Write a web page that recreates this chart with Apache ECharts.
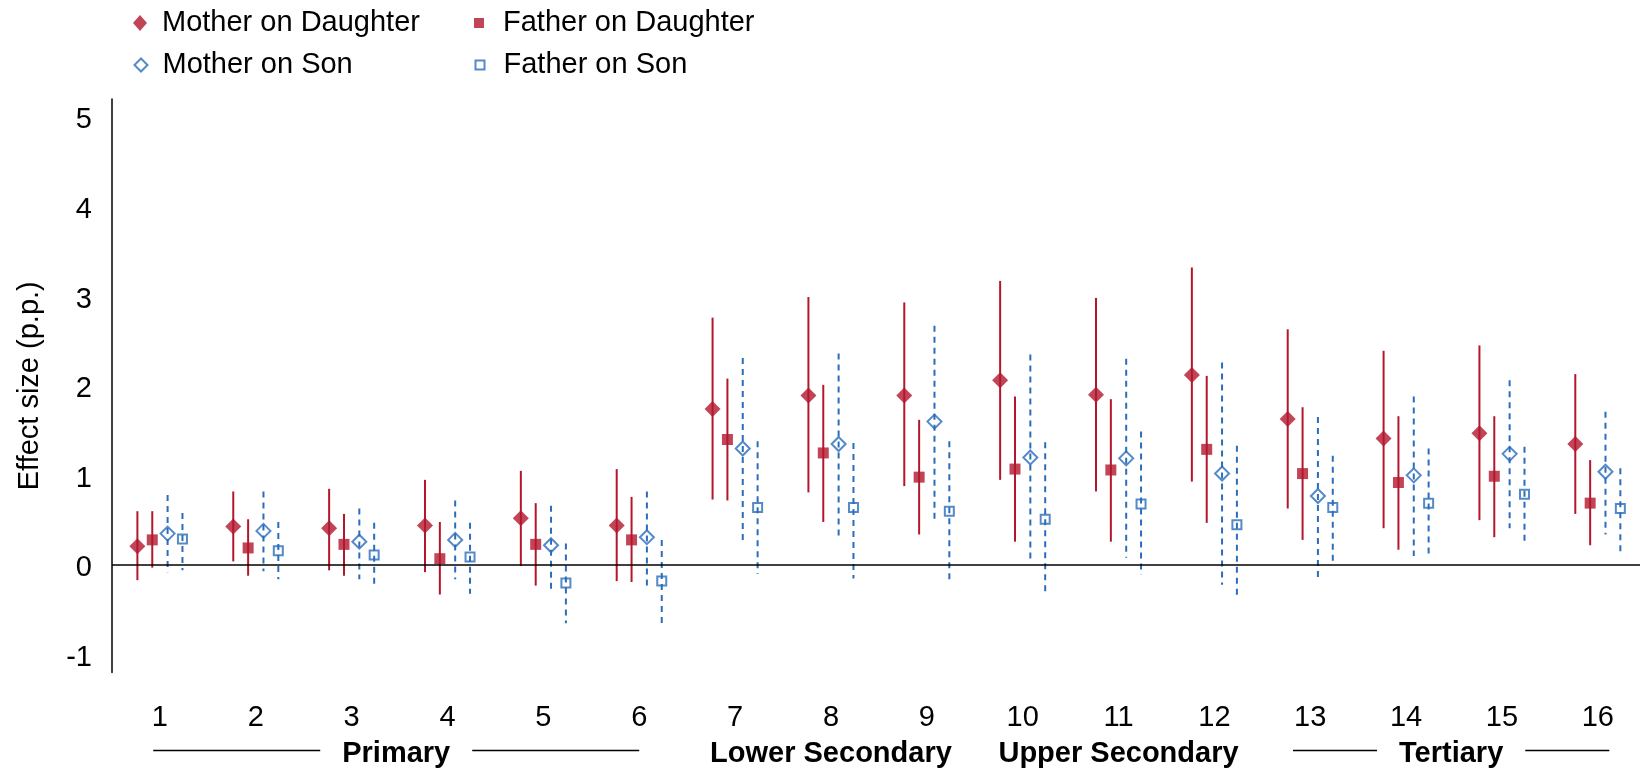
<!DOCTYPE html>
<html>
<head>
<meta charset="utf-8">
<script src="https://cdn.jsdelivr.net/npm/echarts@6/dist/echarts.min.js"></script>
<style>
html,body{margin:0;padding:0;background:#fff;}
#chart{width:1643px;height:771px;}
</style>
</head>
<body>
<div id="chart"></div>
<script>
// ---------------- DATA ----------------
const categories = [1, 2, 3, 4, 5, 6, 7, 8, 9, 10, 11, 12, 13, 14, 15, 16];

const seriesNames = ['Mother on Daughter', 'Father on Daughter', 'Mother on Son', 'Father on Son'];

// Mother on Daughter
const mdEst  = [0.21, 0.43, 0.41, 0.44, 0.52, 0.44, 1.74, 1.89, 1.89, 2.06, 1.90, 2.12, 1.63, 1.41, 1.47, 1.35];
const mdLow  = [-0.17, 0.04, -0.06, -0.08, -0.01, -0.18, 0.73, 0.81, 0.88, 0.95, 0.82, 0.93, 0.63, 0.41, 0.50, 0.57];
const mdHigh = [0.60, 0.82, 0.85, 0.95, 1.05, 1.07, 2.76, 2.99, 2.93, 3.17, 2.98, 3.32, 2.63, 2.39, 2.45, 2.13];

// Father on Daughter
const fdEst  = [0.28, 0.19, 0.23, 0.07, 0.23, 0.28, 1.40, 1.25, 0.98, 1.07, 1.06, 1.29, 1.02, 0.92, 0.99, 0.69];
const fdLow  = [-0.03, -0.12, -0.12, -0.33, -0.23, -0.19, 0.72, 0.48, 0.34, 0.26, 0.26, 0.47, 0.28, 0.17, 0.31, 0.22];
const fdHigh = [0.60, 0.51, 0.57, 0.48, 0.69, 0.76, 2.08, 2.01, 1.62, 1.88, 1.85, 2.11, 1.76, 1.66, 1.66, 1.17];

// Mother on Son
const msEst  = [0.35, 0.38, 0.26, 0.28, 0.22, 0.31, 1.30, 1.35, 1.60, 1.20, 1.19, 1.02, 0.77, 1.00, 1.24, 1.04];
const msLow  = [-0.08, -0.07, -0.16, -0.16, -0.28, -0.25, 0.23, 0.33, 0.51, 0.06, 0.08, -0.22, -0.14, 0.10, 0.41, 0.34];
const msHigh = [0.78, 0.82, 0.63, 0.72, 0.66, 0.82, 2.31, 2.36, 2.67, 2.35, 2.30, 2.26, 1.65, 1.88, 2.06, 1.71];

// Father on Son
const fsEst  = [0.29, 0.16, 0.11, 0.09, -0.20, -0.18, 0.64, 0.64, 0.60, 0.51, 0.68, 0.45, 0.64, 0.69, 0.79, 0.63];
const fsLow  = [-0.06, -0.16, -0.24, -0.32, -0.65, -0.66, -0.10, -0.15, -0.19, -0.35, -0.11, -0.38, 0.00, 0.08, 0.24, 0.15];
const fsHigh = [0.58, 0.48, 0.47, 0.47, 0.24, 0.28, 1.38, 1.36, 1.38, 1.37, 1.49, 1.33, 1.22, 1.30, 1.32, 1.08];

// Y tick labels
const yTickLabels = [-1, 0, 1, 2, 3, 4, 5];

// Education-level groups under the x axis
const groupNames = ['Primary', 'Lower Secondary', 'Upper Secondary', 'Tertiary'];
const groupFrom  = [0.93, 7, 10, 12.82];
const groupTo    = [6.0, 9, 12, 16.12];
const groupRule  = [true, false, false, true];

// ---------------- STYLE ----------------
const RED = '#B3172D';
const BLUE = '#2B6DBA';
const FONT = '"Liberation Sans", Arial, Helvetica, sans-serif';
const FS = 29;
const offsets = [-0.235, -0.08, 0.08, 0.235];

const measureCtx = document.createElement('canvas').getContext('2d');
function textWidth(t, font) { measureCtx.font = font; return measureCtx.measureText(t).width; }

function ciSeries(name, low, high, off, color, dashed) {
  return {
    type: 'custom',
    name: name,
    silent: true,
    clip: false,
    z: 2,
    data: categories.map((c, i) => [c + off, low[i], high[i]]),
    encode: { x: 0, y: [1, 2] },
    renderItem: function (params, api) {
      const a = api.coord([api.value(0), api.value(1)]);
      const b = api.coord([api.value(0), api.value(2)]);
      return {
        type: 'line',
        shape: { x1: a[0], y1: b[1], x2: b[0], y2: a[1] },
        style: { stroke: color, lineWidth: 2, lineDash: dashed ? [6, 5] : null }
      };
    }
  };
}

function pointSeries(name, est, off, symbol, size, itemStyle) {
  return {
    type: 'scatter',
    name: name,
    z: 3,
    symbol: symbol,
    symbolSize: size,
    itemStyle: itemStyle,
    data: categories.map((c, i) => [c + off, est[i]])
  };
}

const groupFont = 'bold ' + FS + 'px ' + FONT;
const groupSeries = {
  type: 'custom',
  name: 'groups',
  silent: true,
  clip: false,
  data: groupNames.map((g, i) => [groupFrom[i], groupTo[i], i]),
  encode: { x: [0, 1] },
  renderItem: function (params, api) {
    const i = api.value(2);
    const x0 = api.coord([api.value(0), -1.2]);
    const x1 = api.coord([api.value(1), -1.2]);
    const yBase = x0[1];
    const cx = (x0[0] + x1[0]) / 2;
    const children = [{
      type: 'text',
      style: {
        text: groupNames[i], x: cx, y: yBase + 81, align: 'center', verticalAlign: 'middle',
        font: groupFont, fill: '#000'
      }
    }];
    if (groupRule[i]) {
      const half = textWidth(groupNames[i], groupFont) / 2 + 22;
      children.push({
        type: 'line',
        shape: { x1: x0[0], y1: yBase + 78, x2: cx - half, y2: yBase + 78 },
        style: { stroke: '#000', lineWidth: 1.3 }
      });
      children.push({
        type: 'line',
        shape: { x1: cx + half, y1: yBase + 78, x2: x1[0], y2: yBase + 78 },
        style: { stroke: '#000', lineWidth: 1.3 }
      });
    }
    return { type: 'group', children: children };
  }
};

function legendFor(name, left, top, iw, ih, pad) {
  return {
    data: [name],
    left: left,
    top: top,
    padding: 0,
    orient: 'vertical',
    itemWidth: iw,
    itemHeight: ih,
    selectedMode: false,
    textStyle: { fontFamily: FONT, fontSize: FS, color: '#000', lineHeight: 30, padding: [0, 0, 0, pad] }
  };
}

const chart = echarts.init(document.getElementById('chart'), null, { renderer: 'canvas' });

chart.setOption({
  animation: false,
  backgroundColor: '#fff',
  textStyle: { fontFamily: FONT },
  legend: [
    legendFor(seriesNames[0], 133, 8, 14, 16, 10),
    legendFor(seriesNames[1], 474, 8, 10, 10, 14),
    legendFor(seriesNames[2], 133.5, 50, 13, 13, 10),
    legendFor(seriesNames[3], 474.5, 50, 9, 9, 14)
  ],
  grid: { left: 112, right: 0, top: 99, bottom: 98.5, containLabel: false },
  xAxis: {
    type: 'value',
    min: 0.5,
    max: 16.44,
    interval: 0.5,
    axisLine: { show: false },
    axisTick: { show: false },
    splitLine: { show: false },
    axisLabel: {
      margin: 31,
      fontSize: FS,
      fontFamily: FONT,
      color: '#000',
      showMinLabel: true,
      showMaxLabel: true,
      formatter: function (v) {
        const r = Math.round(v);
        return (Math.abs(v - r) < 1e-6 && categories.indexOf(r) >= 0) ? String(r) : '';
      }
    }
  },
  yAxis: {
    type: 'value',
    min: -1.2,
    max: 5.2,
    interval: 0.2,
    name: 'Effect size (p.p.)',
    nameLocation: 'middle',
    nameGap: 68,
    nameTextStyle: { fontSize: FS, fontFamily: FONT, color: '#000' },
    axisLine: { show: true, lineStyle: { color: '#000', width: 1.5 } },
    axisTick: { show: false },
    splitLine: { show: false },
    axisLabel: {
      margin: 20,
      color: '#000',
      rich: {
        v: { fontSize: FS, fontFamily: FONT, color: '#000', lineHeight: 30, padding: [7, 0, 0, 0] }
      },
      formatter: function (v) {
        const r = Math.round(v);
        return (Math.abs(v - r) < 1e-6 && yTickLabels.indexOf(r) >= 0) ? '{v|' + r + '}' : '';
      }
    }
  },
  series: [
    ciSeries('ci-md', mdLow, mdHigh, offsets[0], RED, false),
    ciSeries('ci-fd', fdLow, fdHigh, offsets[1], RED, false),
    ciSeries('ci-ms', msLow, msHigh, offsets[2], BLUE, true),
    ciSeries('ci-fs', fsLow, fsHigh, offsets[3], BLUE, true),
    Object.assign(pointSeries(seriesNames[0], mdEst, offsets[0], 'diamond', 16, { color: RED }), {
      markLine: {
        silent: true, symbol: 'none', label: { show: false },
        lineStyle: { color: '#000', width: 1.5, type: 'solid' },
        data: [{ yAxis: 0 }]
      }
    }),
    pointSeries(seriesNames[1], fdEst, offsets[1], 'rect', 11, { color: RED }),
    pointSeries(seriesNames[2], msEst, offsets[2], 'diamond', 14, { color: 'transparent', borderColor: BLUE, borderWidth: 2 }),
    pointSeries(seriesNames[3], fsEst, offsets[3], 'rect', 9, { color: 'transparent', borderColor: BLUE, borderWidth: 2 }),
    groupSeries
  ]
});
</script>
</body>
</html>
